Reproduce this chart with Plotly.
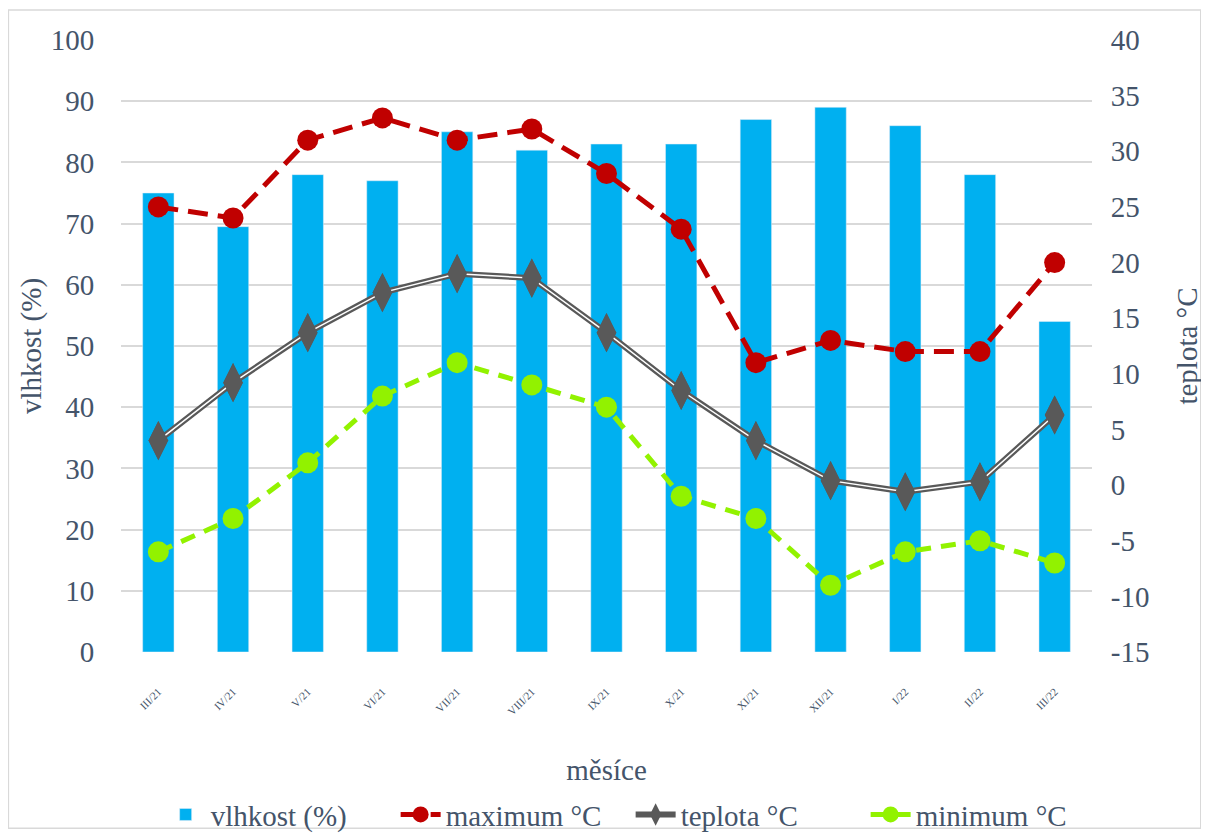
import plotly.graph_objects as go

months = ["III/21", "IV/21", "V/21", "VI/21", "VII/21", "VIII/21", "IX/21",
          "X/21", "XI/21", "XII/21", "I/22", "II/22", "III/22"]
vlhkost = [75, 69.5, 78, 77, 85, 82, 83, 83, 87, 89, 86, 78, 54]
maximum = [25, 24, 31, 33, 31, 32, 28, 23, 11, 13, 12, 12, 20]
teplota = [4, 9.2, 13.7, 17.3, 19.0, 18.6, 13.7, 8.5, 4, 0.4, -0.6, 0.3, 6.3]
minimum = [-6, -3, 2, 8, 11, 9, 7, -1, -3, -9, -6, -5, -7]
temp_ticks = [-15, -10, -5, 0, 5, 10, 15, 20, 25, 30, 35, 40]
temp_tick_text = [str(v) for v in temp_ticks]

FONT = "Liberation Serif, serif"
TXT = "#44546A"
FS = 29

fig = go.Figure()
fig.add_trace(go.Bar(x=months, y=vlhkost, name="vlhkost (%)",
                     marker=dict(color="#00B0F0"), yaxis="y"))
fig.add_trace(go.Scatter(x=months, y=maximum, name="maximum °C", yaxis="y2",
                         mode="lines+markers",
                         line=dict(color="#C00000", width=5, dash="20px,10px"),
                         marker=dict(color="#C00000", size=21, symbol="circle")))
fig.add_trace(go.Scatter(x=months, y=teplota, name="teplota °C", yaxis="y2",
                         mode="lines+markers",
                         line=dict(color="#595959", width=6),
                         marker=dict(color="#595959", size=28, symbol="diamond-tall")))
fig.add_trace(go.Scatter(x=months, y=teplota, showlegend=False, yaxis="y2",
                         mode="lines", hoverinfo="skip",
                         line=dict(color="white", width=1.5)))
fig.add_trace(go.Scatter(x=months, y=teplota, showlegend=False, yaxis="y2",
                         mode="markers", hoverinfo="skip",
                         marker=dict(color="#595959", size=28, symbol="diamond-tall")))
fig.add_trace(go.Scatter(x=months, y=minimum, name="minimum °C", yaxis="y2",
                         mode="lines+markers",
                         line=dict(color="#92F200", width=5, dash="15px,10px"),
                         marker=dict(color="#92F200", size=21, symbol="circle")))

fig.update_layout(
    width=1209, height=835,
    margin=dict(l=113, r=125, t=32, b=191),
    paper_bgcolor="white", plot_bgcolor="white",
    font=dict(family=FONT, color=TXT, size=FS),
    bargap=0.58,
    xaxis=dict(title=dict(text="měsíce", font=dict(size=FS), standoff=43),
               automargin=False, range=[-0.5, 12.5],
               tickangle=-45, tickfont=dict(size=11), showgrid=False,
               showline=False, ticks="outside", ticklen=28, tickcolor="rgba(0,0,0,0)"),
    yaxis=dict(title=dict(text="vlhkost (%)", font=dict(size=FS), standoff=0),
               automargin=False,
               range=[0, 100], dtick=10, showgrid=True, gridcolor="#D9D9D9",
               gridwidth=1.5, zeroline=False, tickfont=dict(size=FS),
               ticks="outside", ticklen=20, tickcolor="rgba(0,0,0,0)"),
    yaxis2=dict(title=dict(text="teplota °C", font=dict(size=FS), standoff=28),
                automargin=False,
                range=[-15, 40], tickvals=temp_ticks, ticktext=temp_tick_text,
                overlaying="y", side="right",
                showgrid=False, zeroline=False, tickfont=dict(size=FS),
                ticks="outside", ticklen=12, tickcolor="rgba(0,0,0,0)"),
    legend=dict(orientation="h", xref="container", x=0.515, xanchor="center",
                yref="container", y=0.034, yanchor="middle",
                font=dict(size=FS), traceorder="normal",
                itemwidth=40, entrywidth=180,
                bgcolor="rgba(0,0,0,0)"),
    shapes=[dict(type="rect", xref="paper", yref="paper",
                 x0=-0.116, x1=1.112, y0=-0.288, y1=1.049,
                 line=dict(color="#D9D9D9", width=1.5), fillcolor="rgba(0,0,0,0)")],
)

fig.write_html("out.html")
